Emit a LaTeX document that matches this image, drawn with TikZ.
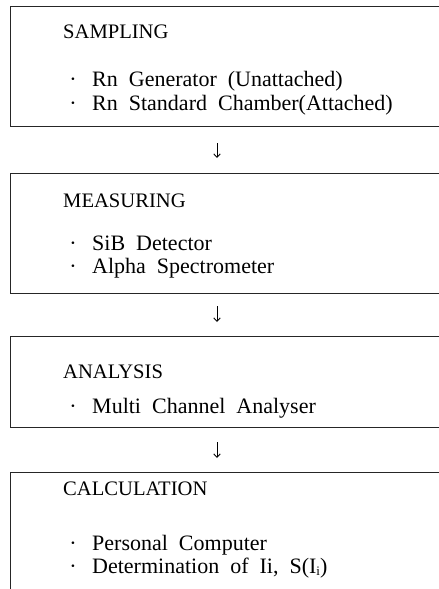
\documentclass[tikz,border=0pt]{standalone}
\usepackage{fontspec}
\setmainfont{Liberation Serif}[WordSpace=2]
\usetikzlibrary{arrows.meta}
\tikzset{
  x=1pt, y=-1pt,
  stage/.style={draw=black!85, line width=0.8pt, rectangle, anchor=north west, inner sep=0pt},
  head/.style={anchor=base west, inner sep=0pt, font=\fontsize{20.6}{24}\selectfont},
  item/.style={anchor=base west, inner sep=0pt, font=\fontsize{22}{26}\selectfont},
  dot/.style={anchor=base, inner sep=0pt, font=\fontsize{22}{26}\selectfont},
  flow/.style={line width=0.9pt, -{Straight Barb[length=3.5pt,width=6.5pt]}}
}
\begin{document}
\begin{tikzpicture}
\useasboundingbox (0,0) rectangle (439,589);
\clip (0,0) rectangle (439,589);

% stage frames (open on the right, last one open at the bottom)
\node[stage, minimum width=460pt, minimum height=120pt] (sampling) at (10,6) {};
\node[stage, minimum width=460pt, minimum height=120pt] (measuring) at (10,173) {};
\node[stage, minimum width=460pt, minimum height=91pt] (analysis) at (10,336) {};
\node[stage, minimum width=460pt, minimum height=140pt] (calculation) at (10,472) {};

% SAMPLING
\node[head] (h1) at (63,38) {SAMPLING};
\node[dot] (d11) at (73,86) {·};
\node[item] (t11) at (92,86) {Rn Generator (Unattached)};
\node[dot] (d12) at (73,110) {·};
\node[item] (t12) at (92,110) {Rn Standard Chamber(Attached)};

% MEASURING
\node[head] (h2) at (63,207) {MEASURING};
\node[dot] (d21) at (73,250) {·};
\node[item] (t21) at (92,250) {SiB Detector};
\node[dot] (d22) at (73,273) {·};
\node[item] (t22) at (92,273) {Alpha Spectrometer};

% ANALYSIS
\node[head] (h3) at (63,378) {ANALYSIS};
\node[dot] (d31) at (73,413) {·};
\node[item] (t31) at (92,413) {Multi Channel Analyser};

% CALCULATION
\node[head] (h4) at (63,495) {CALCULATION};
\node[dot] (d41) at (73,550) {·};
\node[item] (t41) at (92,550) {Personal Computer};
\node[dot] (d42) at (73,573) {·};
\node[item] (t42) at (92,573) {Determination of Ii, S(I\raisebox{-0.25ex}{\fontsize{13}{15}\selectfont i})};

% flow arrows between stages
\coordinate (a1s) at (217,143);
\coordinate (a1e) at (217,158);
\coordinate (a2s) at (217,306);
\coordinate (a2e) at (217,322);
\coordinate (a3s) at (217,442);
\coordinate (a3e) at (217,458);
\draw[flow] (a1s) -- (a1e);
\draw[flow] (a2s) -- (a2e);
\draw[flow] (a3s) -- (a3e);
\end{tikzpicture}
\end{document}
